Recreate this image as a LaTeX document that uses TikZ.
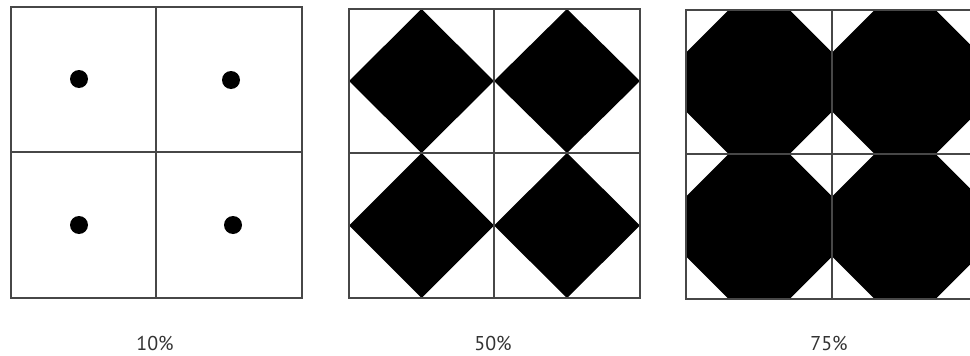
\documentclass[tikz,border=0pt]{standalone}
\usepackage{fontspec}
\setmainfont{PT Sans}
\begin{document}
\begin{tikzpicture}[x=1pt,y=-1pt,
  gridline/.style={draw=black!72,line width=1.6pt},
  blob/.style={fill=black},
  lbl/.style={font=\fontsize{20}{24}\selectfont,text=black!80,inner sep=0pt}]
\useasboundingbox (0,0) rectangle (970,356);
\clip (0,0) rectangle (970,356);
% ---- panel 1: dots ----
\foreach \x/\y in {79/79,231/80,79/225,233/225}
  \fill[blob] (\x,\y) circle (9);
\draw[gridline] (11,7) rectangle (302,298);
\draw[gridline] (156,7) -- (156,298);
\draw[gridline] (11,152) -- (302,152);
% ---- panel 2: diamonds ----
\foreach \xa/\xb in {349/494,494/640}
  \foreach \ya/\yb in {9/153,153/298}
    \fill[blob] ({(\xa+\xb)/2},\ya) -- (\xb,{(\ya+\yb)/2}) -- ({(\xa+\xb)/2},\yb) -- (\xa,{(\ya+\yb)/2}) -- cycle;
\draw[gridline] (349,9) rectangle (640,298);
\draw[gridline] (494,9) -- (494,298);
\draw[gridline] (349,153) -- (640,153);
% ---- panel 3: octagons ----
\foreach \xa/\xb in {686/832,832/978}
  \foreach \ya/\yb in {10/154,154/299}
    \fill[blob] ({\xa+42.5},\ya) -- ({\xb-42.5},\ya) -- (\xb,{\ya+42.5}) -- (\xb,{\yb-42.5})
      -- ({\xb-42.5},\yb) -- ({\xa+42.5},\yb) -- (\xa,{\yb-42.5}) -- (\xa,{\ya+42.5}) -- cycle;
\draw[gridline] (686,10) rectangle (978,299);
\draw[gridline] (832,10) -- (832,299);
\draw[gridline] (686,154) -- (978,154);
% ---- labels ----
\node[lbl] (l10) at (155,343) {10\%};
\node[lbl] (l50) at (493,343) {50\%};
\node[lbl] (l75) at (829,343) {75\%};
\end{tikzpicture}
\end{document}
